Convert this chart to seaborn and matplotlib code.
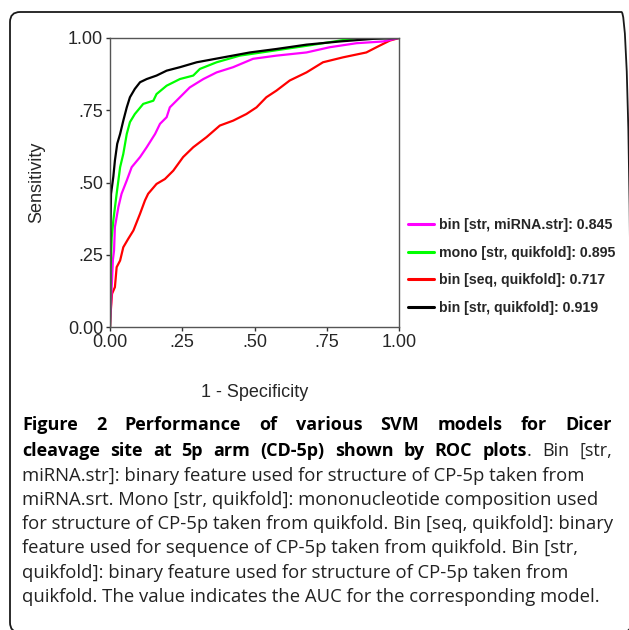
import numpy as np
import pandas as pd
import matplotlib
matplotlib.use("Agg")
import matplotlib.pyplot as plt
from matplotlib.patches import FancyBboxPatch
from matplotlib.lines import Line2D
import seaborn as sns

# ---- data ----
black_fpr = [0.0, 0.001, 0.0035, 0.0115, 0.017, 0.025, 0.035, 0.046, 0.058, 0.069, 0.086, 0.104, 0.127, 0.161, 0.196, 0.242, 0.30, 0.392, 0.484, 0.576, 0.68, 0.795, 0.91, 1.0]
black_tpr = [0.0, 0.30, 0.46, 0.52, 0.576, 0.634, 0.668, 0.714, 0.76, 0.795, 0.824, 0.847, 0.858, 0.870, 0.887, 0.899, 0.916, 0.933, 0.950, 0.962, 0.977, 0.988, 0.997, 1.0]

green_fpr = [0.0, 0.002, 0.006, 0.0115, 0.023, 0.035, 0.046, 0.058, 0.069, 0.086, 0.115, 0.15, 0.161, 0.196, 0.242, 0.288, 0.311, 0.369, 0.449, 0.565, 0.68, 0.795, 0.853, 1.0]
green_tpr = [0.0, 0.196, 0.31, 0.369, 0.461, 0.553, 0.599, 0.668, 0.709, 0.737, 0.772, 0.783, 0.806, 0.835, 0.858, 0.870, 0.893, 0.916, 0.939, 0.956, 0.973, 0.991, 1.0, 1.0]

magenta_fpr = [0.0, 0.010, 0.014, 0.017, 0.029, 0.040, 0.058, 0.075, 0.104, 0.127, 0.156, 0.173, 0.196, 0.207, 0.242, 0.276, 0.323, 0.369, 0.426, 0.495, 0.576, 0.68, 0.76, 0.853, 0.945, 1.0]
magenta_tpr = [0.0, 0.232, 0.265, 0.346, 0.415, 0.461, 0.507, 0.553, 0.588, 0.622, 0.668, 0.703, 0.726, 0.760, 0.795, 0.829, 0.858, 0.881, 0.899, 0.928, 0.939, 0.950, 0.968, 0.982, 0.988, 1.0]

red_fpr = [0.0, 0.002, 0.007, 0.017, 0.023, 0.035, 0.046, 0.063, 0.081, 0.104, 0.121, 0.132, 0.161, 0.190, 0.219, 0.253, 0.288, 0.334, 0.380, 0.426, 0.472, 0.507, 0.541, 0.576, 0.622, 0.68, 0.737, 0.806, 0.887, 0.922, 0.968, 1.0]
red_tpr = [0.0, 0.046, 0.115, 0.138, 0.207, 0.23, 0.276, 0.305, 0.334, 0.392, 0.438, 0.461, 0.495, 0.512, 0.541, 0.588, 0.622, 0.657, 0.697, 0.714, 0.737, 0.760, 0.795, 0.818, 0.853, 0.881, 0.916, 0.933, 0.950, 0.968, 0.991, 1.0]

series_names = ["bin [str, miRNA.str]", "mono [str, quikfold]", "bin [seq, quikfold]", "bin [str, quikfold]"]
auc_values = ["0.845", "0.895", "0.717", "0.919"]
series_colors = ["#FF00FF", "#00FF00", "#FF0000", "#000000"]
x_ticks = [0.0, 0.25, 0.5, 0.75, 1.0]
x_tick_labels = ["0.00", ".25", ".50", ".75", "1.00"]
y_tick_labels = ["0.00", ".25", ".50", ".75", "1.00"]

fprs = [magenta_fpr, green_fpr, red_fpr, black_fpr]
tprs = [magenta_tpr, green_tpr, red_tpr, black_tpr]

frames = []
for name, fx, ty in zip(series_names, fprs, tprs):
    frames.append(pd.DataFrame({"fpr": fx, "tpr": ty, "model": name}))
df = pd.concat(frames, ignore_index=True)

sns.set_theme(style="white")
plt.rcParams["font.family"] = ["Liberation Sans", "DejaVu Sans"]

W, H = 629, 630
fig = plt.figure(figsize=(W / 100, H / 100), dpi=100)
fig.patch.set_facecolor("white")

# rounded frame around everything
box = FancyBboxPatch((10 / W, -0.004), 1.0 - 10 / W + 0.004, 1 - 12 / H + 0.004,
                     boxstyle="round,pad=0,rounding_size=0.016",
                     transform=fig.transFigure, fill=False, edgecolor="#1a1a1a", linewidth=1.3,
                     clip_on=False)
fig.patches.append(box)

ax = fig.add_axes([110 / W, 1 - 327 / H, 289 / W, 289 / H])

draw_order = ["bin [seq, quikfold]", "bin [str, miRNA.str]", "mono [str, quikfold]", "bin [str, quikfold]"]
pal = dict(zip(series_names, series_colors))
for name in draw_order:
    sub = df[df["model"] == name]
    sns.lineplot(data=sub, x="fpr", y="tpr", color=pal[name], linewidth=1.6,
                 sort=False, estimator=None, ax=ax, legend=False)

ax.set_xlim(0, 1)
ax.set_ylim(0, 1)
ax.set_xticks(x_ticks)
ax.set_xticklabels(x_tick_labels)
ax.set_yticks(x_ticks)
ax.set_yticklabels(y_tick_labels)
ax.tick_params(axis="both", direction="out", length=3, width=1, color="#333333",
               labelsize=13, pad=2, bottom=True, left=True)
for s in ax.spines.values():
    s.set_visible(True)
    s.set_color("#555555")
    s.set_linewidth(1.0)
ax.set_xlabel("1 - Specificity", fontsize=13, labelpad=24)
ax.set_ylabel("Sensitivity", fontsize=13, labelpad=16)
ax.grid(False)

# legend
handles = [Line2D([0], [0], color=c, linewidth=2.2) for c in series_colors]
labels = [f"{n}: {a}" for n, a in zip(series_names, auc_values)]
leg = fig.legend(handles, labels, loc="center left", bbox_to_anchor=(408 / W, 1 - 266.5 / H),
                 frameon=False, handlelength=1.85, handletextpad=0.35, labelspacing=0.95,
                 borderpad=0, borderaxespad=0,
                 prop={"family": "Liberation Sans", "weight": "bold", "size": 10.2})

# caption
cap_font = "Open Sans"
cap_size = 13
reg_size = 13.3
line_ys = [425, 451, 476, 500, 524, 548, 573, 597]
left_px = 22
right_px = 612

fig.canvas.draw()
renderer = fig.canvas.get_renderer()

def px_width(t):
    return t.get_window_extent(renderer=renderer).width

def justified_line(y, groups):
    """groups: list of words; each word is a list of (text, weight) pieces."""
    placed = []
    widths = []
    for grp in groups:
        pieces = []
        wsum = 0
        for txt, wt in grp:
            t = fig.text(0, 1 - y / H, txt, fontsize=cap_size, fontweight=wt, family=cap_font,
                         va="center", ha="left", color="black" if wt == "bold" else "#222222")
            w = px_width(t)
            pieces.append((t, w))
            wsum += w
        placed.append(pieces)
        widths.append(wsum)
    gap = (right_px - left_px - sum(widths)) / (len(groups) - 1)
    x = left_px
    for pieces, wsum in zip(placed, widths):
        xx = x
        for t, w in pieces:
            t.set_x(xx / W)
            xx += w
        x += wsum + gap

line1 = "Figure 2 Performance of various SVM models for Dicer".split()
justified_line(line_ys[0], [[(w, "bold")] for w in line1])

line2_bold = "cleavage site at 5p arm (CD-5p) shown by ROC".split()
groups2 = [[(w, "bold")] for w in line2_bold]
groups2.append([("plots", "bold"), (".", "normal")])
groups2.append([("Bin", "normal")])
groups2.append([("[str,", "normal")])
justified_line(line_ys[1], groups2)

rest = [
    "miRNA.str]: binary feature used for structure of CP-5p taken from",
    "miRNA.srt. Mono [str, quikfold]: mononucleotide composition used",
    "for structure of CP-5p taken from quikfold. Bin [seq, quikfold]: binary",
    "feature used for sequence of CP-5p taken from quikfold. Bin [str,",
    "quikfold]: binary feature used for structure of CP-5p taken from",
    "quikfold. The value indicates the AUC for the corresponding model.",
]
for y, line in zip(line_ys[2:], rest):
    fig.text(left_px / W, 1 - y / H, line, fontsize=reg_size, family=cap_font,
             va="center", ha="left", color="#222222")

fig.savefig("out.png", dpi=100, facecolor="white")
